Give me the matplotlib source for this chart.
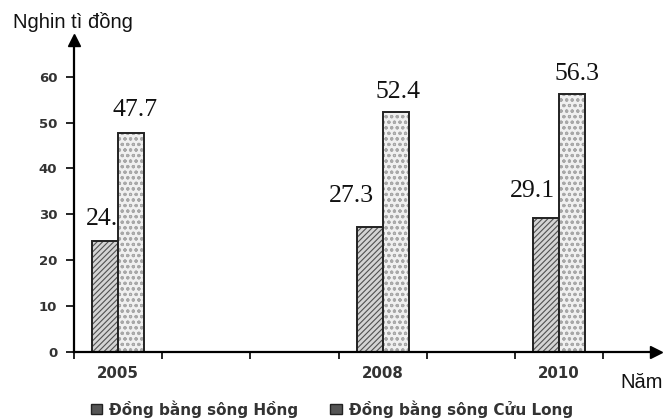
import matplotlib
matplotlib.use("Agg")
import matplotlib.pyplot as plt
import matplotlib.patches as mpatches
import numpy as np

# chart data
years = ["2005", "2006", "2007", "2008", "2009", "2010"]
song_hong = [24.2, None, None, 27.3, None, 29.1]
cuu_long = [47.7, None, None, 52.4, None, 56.3]
series_names = ["Đồng bằng sông Hồng", "Đồng bằng sông Cửu Long"]
y_ticks = [0, 10, 20, 30, 40, 50, 60]

# label offsets (pixels) for the value labels, as placed in the original
hong_offsets = [(3, 16), None, None, (-18, 25), None, (-14, 21)]
long_offsets = [(4, 17), None, None, (2, 14), None, (5, 14)]

plt.rcParams["hatch.linewidth"] = 0.8

fig = plt.figure(figsize=(6.66, 4.2), dpi=100)
ax = fig.add_axes([74 / 666, 68 / 420, 582 / 666, 312 / 420])

x = np.arange(len(years)) + 0.5
width = 0.295


def draw_bars(xs, vals, face, hatch, hatch_col, z):
    for xi, v in zip(xs, vals):
        if v is None:
            continue
        ax.bar(xi, v, width, color=face, edgecolor=hatch_col, hatch=hatch,
               linewidth=0, zorder=z)
        ax.bar(xi, v, width, facecolor="none", edgecolor="#222222",
               linewidth=1.4, zorder=z + 0.1)


draw_bars(x - width / 2, song_hong, "#d4d4d4", "//////", "#505050", 2)
draw_bars(x + width / 2, cuu_long, "#f0f0f0", "ooo", "#a8a8a8", 4)


def draw_labels(xs, vals, offsets, z):
    for xi, v, off in zip(xs, vals, offsets):
        if v is None:
            continue
        ax.annotate(f"{v:.1f}", (xi, v), xytext=off, textcoords="offset pixels",
                    ha="center", va="baseline", fontsize=18.5,
                    family="Liberation Serif", color="#111111", zorder=z,
                    annotation_clip=False)


draw_labels(x - width / 2, song_hong, hong_offsets, 3)
draw_labels(x + width / 2, cuu_long, long_offsets, 5)

ax.set_xlim(0, 6.6)
ax.set_ylim(0, 68)

for s in ["top", "right"]:
    ax.spines[s].set_visible(False)
ax.spines["left"].set_linewidth(1.6)
ax.spines["bottom"].set_linewidth(1.6)
ax.spines["left"].set_zorder(6)
ax.spines["bottom"].set_zorder(6)

# arrow heads on the axes
ax.plot(1, 0, ">", color="black", markersize=9, transform=ax.transAxes,
        clip_on=False, zorder=7)
ax.plot(0, 1, "^", color="black", markersize=9, transform=ax.transAxes,
        clip_on=False, zorder=7)

ax.set_yticks(y_ticks)
ax.set_yticklabels([str(t) for t in y_ticks], fontsize=9.5,
                   family="DejaVu Sans", fontweight="bold", color="#333333")
ax.tick_params(axis="y", length=6, width=1.2, pad=6)

ax.set_xticks(np.arange(0, 7))
ax.set_xticklabels([])
ax.set_xticks(x, minor=True)
ax.set_xticklabels([y if s is not None else "" for y, s in zip(years, song_hong)],
                   minor=True, fontsize=10.8, family="DejaVu Sans",
                   fontweight="bold", color="#333333")
ax.tick_params(axis="x", which="major", length=5, width=1.2)
ax.tick_params(axis="x", which="minor", length=0, pad=10)

fig.text(13 / 666, 1 - 22 / 420, "Nghin tì đồng", fontsize=14.5,
         family="Liberation Sans", va="center", ha="left", color="#111111")
fig.text(620 / 666, 1 - 383 / 420, "Năm", fontsize=14.5,
         family="Liberation Sans", va="center", ha="left", color="#111111")

handles = [mpatches.Patch(facecolor="#555555", edgecolor="#222222", linewidth=1),
           mpatches.Patch(facecolor="#555555", edgecolor="#222222", linewidth=1)]
leg = fig.legend(handles, series_names, loc="center left",
                 bbox_to_anchor=(77 / 666, 1 - 409 / 420), ncol=2, frameon=False,
                 handlelength=0.75, handleheight=0.65, handletextpad=0.45,
                 columnspacing=2.1, prop={"family": "DejaVu Sans", "size": 11,
                                          "weight": "bold"})
for t in leg.get_texts():
    t.set_color("#333333")

fig.savefig("out.png", dpi=100)
